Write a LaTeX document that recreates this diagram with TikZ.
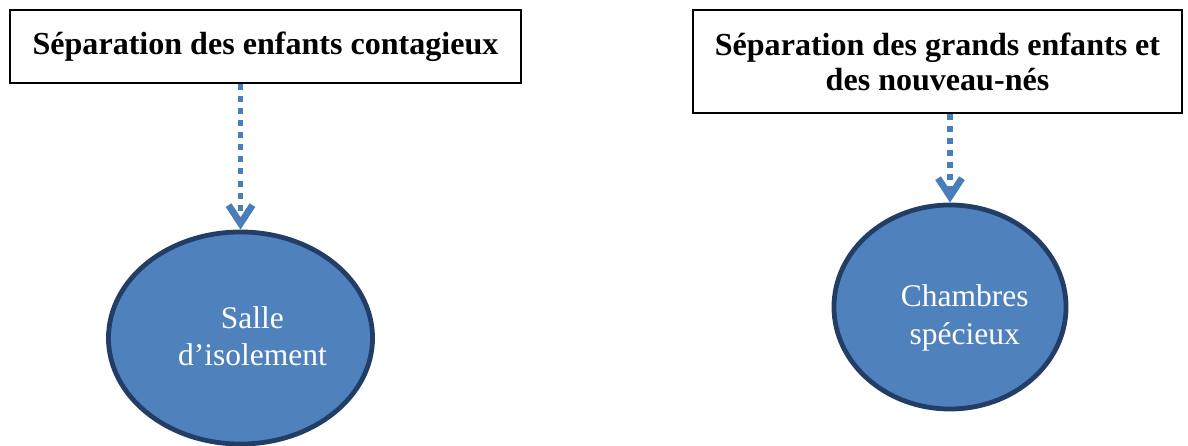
\documentclass[tikz,border=0pt]{standalone}
\usepackage{fontspec}
\setmainfont{Liberation Serif}
\usetikzlibrary{shapes.geometric,arrows.meta}
\definecolor{fillblue}{HTML}{4F81BD}
\definecolor{edgeblue}{HTML}{223E66}
\definecolor{arrowblue}{HTML}{4A7EBB}
\newcommand{\roomtext}[4]{\raisebox{#1}[\height][\depth]{\hspace*{#2}\begin{tabular}{@{}c@{}}#3\\#4\end{tabular}}}

\begin{document}
\begin{tikzpicture}[x=0.025cm,y=-0.025cm,
    titlebox/.style={draw=black,line width=1.1pt,inner sep=0pt,align=center,
        font=\fontsize{22.8}{25}\selectfont\bfseries},
    room/.style={ellipse,draw=edgeblue,fill=fillblue,line width=3.4pt,inner sep=0pt,
        text=white,font=\fontsize{22.4}{27}\selectfont},
    dotarrow/.style={arrowblue,line width=4.2pt,dash pattern=on 4.3pt off 4.3pt,
        -{Straight Barb[length=13pt,width=17pt,line width=4.8pt]}}]
    \useasboundingbox (0,0) rectangle (1188,446);
    % boxes
    \node[titlebox,minimum width=12.775cm,minimum height=1.825cm] (contag) at (265.5,46.5)
        {Séparation des enfants contagieux};
    \node[titlebox,minimum width=12.225cm,minimum height=2.575cm] (grands) at (937.5,61.5)
        {Séparation des grands enfants et\\des nouveau-nés};
    % rooms
    \node[room,minimum width=6.6cm,minimum height=5.3cm] (isol) at (240.5,338)
        {\roomtext{-1pt}{17pt}{Salle}{d’isolement}};
    \node[room,minimum width=5.8cm,minimum height=5.1cm] (chamb) at (950,307)
        {\roomtext{-8pt}{21pt}{Chambres}{spécieux}};
    % arrows
    \coordinate (a1) at (isol.north |- contag.south);
    \coordinate (a2) at (chamb.north |- grands.south);
    \draw[dotarrow] (a1) -- (isol.north);
    \draw[dotarrow] (a2) -- (chamb.north);
\end{tikzpicture}
\end{document}
